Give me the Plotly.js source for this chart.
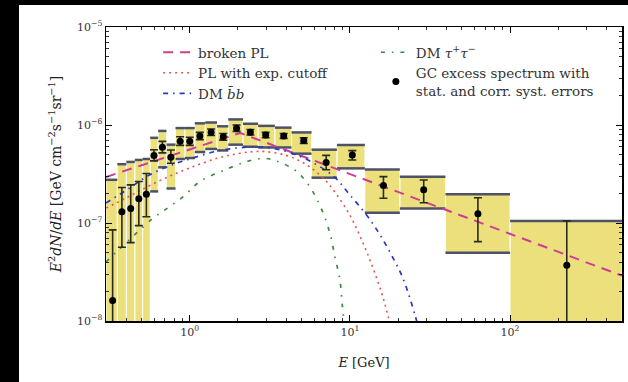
<!DOCTYPE html>
<html>
<head>
<meta charset="utf-8">
<script src="https://cdn.plot.ly/plotly-3.0.1.min.js"></script>
<style>
  html, body { margin: 0; padding: 0; background: #fff; width: 628px; height: 382px; overflow: hidden; }
  .frame-left { position: absolute; left: 0; top: 0; width: 19px; height: 382px; background: #000; }
  .frame-top { position: absolute; left: 0; top: 0; width: 628px; height: 5px; background: #000; }
  #chart { position: absolute; left: 19px; top: 5px; width: 609px; height: 377px; }
</style>
</head>
<body>
<div class="frame-left"></div>
<div class="frame-top"></div>
<div id="chart"></div>
<script>
// Galactic-centre excess spectrum: 24 energy bins (GeV) and E^2 dN/dE in GeV cm^-2 s^-1 sr^-1
const binEdges = [0.300, 0.353, 0.402, 0.454, 0.508, 0.566, 0.635, 0.716, 0.815, 0.933,
                  1.075, 1.25, 1.48, 1.74, 2.15, 2.67, 3.40, 4.32, 5.76, 8.3,
                  12.4, 20.5, 39.5, 100, 500];
const energy = [0.330, 0.377, 0.428, 0.481, 0.536, 0.598, 0.675, 0.762, 0.871, 1.00,
                1.156, 1.36, 1.62, 1.96, 2.39, 2.98, 3.86, 5.15, 7.11, 10.35,
                16.2, 28.9, 63, 226];
const flux = [1.62e-8, 1.30e-7, 1.41e-7, 1.77e-7, 1.97e-7, 4.88e-7, 5.93e-7, 4.69e-7, 6.83e-7, 6.83e-7,
              7.73e-7, 8.42e-7, 7.60e-7, 9.25e-7, 8.41e-7, 7.91e-7, 7.73e-7, 6.94e-7, 4.14e-7, 4.95e-7,
              2.42e-7, 2.18e-7, 1.24e-7, 3.7e-8];
// statistical error bar limits
const statLow = [1e-9, 5.65e-8, 6.3e-8, 9.4e-8, 1.16e-7, 4.3e-7, 5.2e-7, 4.07e-7, 6.2e-7, 6.2e-7,
                 7.1e-7, 7.8e-7, 7.0e-7, 8.6e-7, 7.9e-7, 7.4e-7, 7.3e-7, 6.5e-7, 3.5e-7, 4.4e-7,
                 1.79e-7, 1.61e-7, 6.45e-8, 1e-9];
const statHigh = [8.5e-8, 2.3e-7, 2.45e-7, 2.65e-7, 3.2e-7, 5.6e-7, 6.8e-7, 5.56e-7, 7.6e-7, 7.5e-7,
                  8.4e-7, 9.1e-7, 8.2e-7, 1.0e-6, 9.0e-7, 8.4e-7, 8.2e-7, 7.4e-7, 4.9e-7, 5.48e-7,
                  2.97e-7, 2.75e-7, 1.81e-7, 1.05e-7];
// correlated systematic bands
const sysLow = [1e-9, 1e-9, 1e-9, 1e-9, 1e-9, 2.1e-7, 3.7e-7, 2.25e-7, 4.5e-7, 4.6e-7,
                5.3e-7, 5.7e-7, 5.5e-7, 6.3e-7, 6.0e-7, 5.9e-7, 5.9e-7, 5.1e-7, 2.9e-7, 3.61e-7,
                1.27e-7, 1.41e-7, 4.97e-8, 1e-9];
const sysHigh = [2.76e-7, 3.98e-7, 4.2e-7, 4.4e-7, 4.5e-7, 7.4e-7, 8.7e-7, 6.3e-7, 9.3e-7, 9.3e-7,
                 1.04e-6, 1.06e-6, 9.7e-7, 1.14e-6, 1.03e-6, 9.8e-7, 9.4e-7, 8.4e-7, 5.6e-7, 6.25e-7,
                 3.52e-7, 2.97e-7, 1.97e-7, 1.05e-7];

// spectral models
const brokenPL_E = [0.3, 2.06, 500];
const brokenPL_F = [2.95e-7, 8.3e-7, 2.9e-8];
const cutoffPL_E = [0.3, 0.4, 0.5, 0.7, 1, 1.5, 2, 2.5, 3, 4, 5, 6, 7, 8, 10, 12, 14, 16, 17.5, 18.5];
const cutoffPL_F = [1.42e-7, 1.8e-7, 2.18e-7, 2.86e-7, 3.65e-7, 4.6e-7, 5.1e-7, 5.35e-7, 5.35e-7, 4.9e-7,
                    4.2e-7, 3.45e-7, 2.75e-7, 2.1e-7, 1.2e-7, 6.4e-8, 3.4e-8, 1.8e-8, 1.05e-8, 7.5e-9];
const dmBB_E = [0.3, 0.42, 0.56, 0.8, 1.0, 1.47, 2.15, 3.0, 4.2, 5.76, 8.0, 10, 12.7, 15.4, 18.2, 21.5, 25.5, 27];
const dmBB_F = [1.6e-7, 2.27e-7, 3.09e-7, 4.0e-7, 4.5e-7, 5.4e-7, 5.9e-7, 5.9e-7, 5.25e-7, 4.2e-7,
                2.95e-7, 1.93e-7, 1.21e-7, 7.6e-8, 4.7e-8, 2.7e-8, 1.15e-8, 8e-9];
const dmTau_E = [0.3, 0.35, 0.45, 0.59, 0.7, 0.91, 1.155, 1.65, 2.26, 2.8, 3.24, 4.53, 5.62, 6.66, 7.5, 8.06, 8.66, 8.98, 9.2];
const dmTau_F = [4.0e-8, 5.1e-8, 7.5e-8, 1.12e-7, 1.36e-7, 1.86e-7, 2.64e-7, 3.47e-7, 4.23e-7, 4.55e-7,
                 4.45e-7, 3.47e-7, 2.34e-7, 1.38e-7, 7.85e-8, 4.53e-8, 2.63e-8, 1.41e-8, 9e-9];

const xTicks = [1, 10, 100];
const xTickText = ['10<sup>0</sup>', '10<sup>1</sup>', '10<sup>2</sup>'];
const yTicks = [1e-8, 1e-7, 1e-6, 1e-5];
const yTickText = ['10<sup>\u22128</sup>', '10<sup>\u22127</sup>', '10<sup>\u22126</sup>', '10<sup>\u22125</sup>'];

const SERIF = '"DejaVu Serif", "Liberation Serif", serif';

// systematic boxes as closed polygons separated by gaps
const boxX = [], boxY = [], capX = [], capY = [];
for (let i = 0; i < energy.length; i++) {
  const a = binEdges[i], b = binEdges[i + 1];
  boxX.push(a, b, b, a, a, null);
  boxY.push(sysLow[i], sysLow[i], sysHigh[i], sysHigh[i], sysLow[i], null);
  capX.push(a, b, null, a, b, null);
  capY.push(sysHigh[i], sysHigh[i], null, sysLow[i], sysLow[i], null);
}

const traces = [
  { x: boxX, y: boxY, mode: 'lines', fill: 'toself', fillcolor: '#ebe07c',
    line: { color: 'rgba(255,255,255,0.8)', width: 1 }, showlegend: false, hoverinfo: 'skip' },
  { x: capX, y: capY, mode: 'lines', line: { color: '#4e5266', width: 2.5 },
    showlegend: false, hoverinfo: 'skip' },
  { x: brokenPL_E, y: brokenPL_F, mode: 'lines', name: 'broken PL',
    line: { color: '#cf3c93', width: 2, dash: '10px,7px' }, legend: 'legend' },
  { x: cutoffPL_E, y: cutoffPL_F, mode: 'lines', name: 'PL with exp. cutoff',
    line: { color: '#e5554f', width: 1.6, dash: '2px,4px', shape: 'spline' }, legend: 'legend' },
  { x: dmBB_E, y: dmBB_F, mode: 'lines', name: 'DM <i>b\u0304b</i>',
    line: { color: '#2b36c8', width: 1.7, dash: '5px,5px,1.5px,5px', shape: 'spline' }, legend: 'legend' },
  { x: dmTau_E, y: dmTau_F, mode: 'lines', name: 'DM <i>\u03c4</i><sup>+</sup><i>\u03c4</i><sup>\u2212</sup>',
    line: { color: '#3d8a3d', width: 1.7, dash: '4px,7px,1.5px,7px', shape: 'spline' }, legend: 'legend2' },
  { x: energy, y: flux, mode: 'markers', name: 'GC excess spectrum with<br>stat. and corr. syst. errors',
    marker: { color: '#000', size: 7 },
    error_y: { type: 'data', symmetric: false,
      array: flux.map((v, i) => statHigh[i] - v),
      arrayminus: flux.map((v, i) => v - statLow[i]),
      color: '#2b2b1c', thickness: 1.6, width: 4 },
    legend: 'legend2' }
];

const axisCommon = {
  type: 'log', showgrid: false, zeroline: false, showline: true, linecolor: '#000', linewidth: 1.5,
  mirror: 'allticks', ticks: 'inside', ticklen: 6, tickwidth: 1, tickcolor: '#000',
  minor: { ticks: 'inside', ticklen: 3, tickwidth: 0.8, tickcolor: '#000', dtick: 'D1' },
  tickfont: { family: SERIF, size: 11, color: '#333' }
};

const layout = {
  width: 609, height: 377,
  margin: { l: 87, r: 6, t: 22, b: 61 },
  paper_bgcolor: '#fff', plot_bgcolor: '#fff',
  font: { family: SERIF, color: '#222' },
  xaxis: Object.assign({}, axisCommon, {
    range: [Math.log10(0.3), Math.log10(500)],
    tickmode: 'array', tickvals: xTicks, ticktext: xTickText,
    title: { text: '<i>E</i> [GeV]', font: { family: SERIF, size: 13, color: '#222' }, standoff: 20 }
  }),
  yaxis: Object.assign({}, axisCommon, {
    range: [-8, -5],
    tickmode: 'array', tickvals: yTicks, ticktext: yTickText,
    title: { text: '<i>E</i><sup>2</sup><i>dN</i>/<i>dE</i> [GeV cm<sup>\u22122</sup>s<sup>\u22121</sup>sr<sup>\u22121</sup>]',
             font: { family: SERIF, size: 14, color: '#222' }, standoff: 12 }
  }),
  legend: { x: 0.101, y: 0.966, xanchor: 'left', yanchor: 'top', bgcolor: 'rgba(0,0,0,0)',
            font: { family: SERIF, size: 13.5, color: '#333' }, tracegroupgap: 0 },
  legend2: { x: 0.523, y: 0.966, xanchor: 'left', yanchor: 'top', bgcolor: 'rgba(0,0,0,0)',
             font: { family: SERIF, size: 13.5, color: '#333' }, tracegroupgap: 0 },
  showlegend: true
};

Plotly.newPlot('chart', traces, layout, { staticPlot: true, displayModeBar: false });
</script>
</body>
</html>
